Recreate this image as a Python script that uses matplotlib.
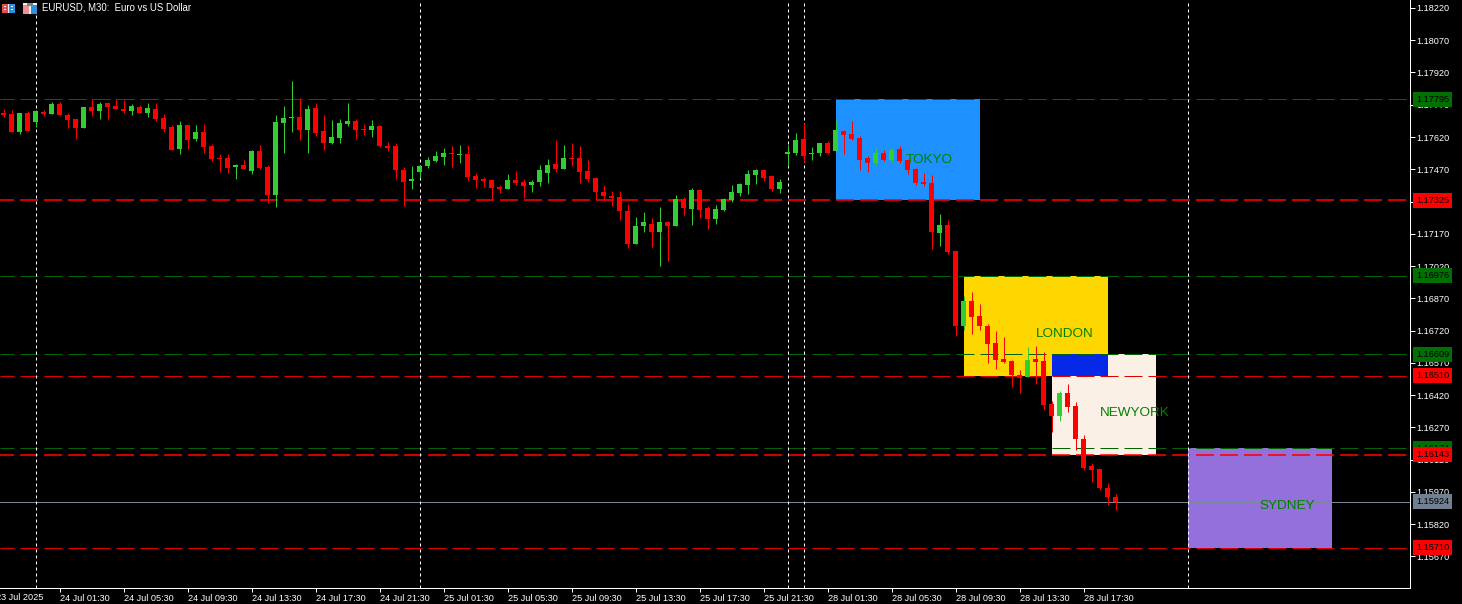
import matplotlib
matplotlib.use('Agg')
import matplotlib.pyplot as plt
from matplotlib.patches import Rectangle

plt.rcParams['font.family'] = ['Liberation Sans', 'DejaVu Sans']
plt.rcParams['lines.scale_dashes'] = False

opens = [1.17733, 1.17727, 1.17643, 1.17732, 1.17690, 1.17736, 1.17727, 1.17773, 1.17722, 1.17704,
         1.17662, 1.17759, 1.17741, 1.17778, 1.17764, 1.17750, 1.17741, 1.17759, 1.17732, 1.17750,
         1.17708, 1.17666, 1.17564, 1.17676, 1.17611, 1.17643, 1.17578, 1.17522, 1.17522, 1.17480,
         1.17490, 1.17462, 1.17555, 1.17480, 1.17350, 1.17685, 1.17708, 1.17713, 1.17652, 1.17755,
         1.17648, 1.17592, 1.17615, 1.17680, 1.17694, 1.17657, 1.17652, 1.17671, 1.17578, 1.17578,
         1.17467, 1.17415, 1.17457, 1.17485, 1.17508, 1.17527, 1.17546, 1.17538, 1.17541, 1.17439,
         1.17425, 1.17420, 1.17387, 1.17378, 1.17420, 1.17411, 1.17397, 1.17411, 1.17453, 1.17494,
         1.17471, 1.17522, 1.17522, 1.17462, 1.17429, 1.17364, 1.17346, 1.17341, 1.17276, 1.17122,
         1.17206, 1.17215, 1.17178, 1.17225, 1.17206, 1.17332, 1.17285, 1.17373, 1.17290, 1.17239,
         1.17281, 1.17327, 1.17359, 1.17397, 1.17443, 1.17467, 1.17439, 1.17378, 1.17541, 1.17545,
         1.17610, 1.17542, 1.17545, 1.17592, 1.17555, 1.17648, 1.17634, 1.17615, 1.17522, 1.17499,
         1.17545, 1.17513, 1.17564, 1.17513, 1.17471, 1.17410, 1.17406, 1.17173, 1.17211, 1.17090,
         1.16741, 1.16857, 1.16788, 1.16741, 1.16662, 1.16588, 1.16578, 1.16513, 1.16504, 1.16588,
         1.16578, 1.16378, 1.16323, 1.16430, 1.16369, 1.16216, 1.16090, 1.16076, 1.15988, 1.15946]
highs = [1.17749, 1.17746, 1.17732, 1.17739, 1.17746, 1.17746, 1.17783, 1.17783, 1.17732, 1.17704,
         1.17759, 1.17797, 1.17783, 1.17778, 1.17797, 1.17792, 1.17773, 1.17769, 1.17778, 1.17778,
         1.17727, 1.17676, 1.17694, 1.17676, 1.17676, 1.17680, 1.17587, 1.17541, 1.17541, 1.17494,
         1.17513, 1.17560, 1.17583, 1.17490, 1.17722, 1.17764, 1.17880, 1.17801, 1.17769, 1.17778,
         1.17722, 1.17699, 1.17704, 1.17778, 1.17704, 1.17680, 1.17699, 1.17676, 1.17597, 1.17592,
         1.17480, 1.17485, 1.17490, 1.17527, 1.17555, 1.17569, 1.17578, 1.17583, 1.17583, 1.17453,
         1.17434, 1.17420, 1.17397, 1.17448, 1.17462, 1.17425, 1.17420, 1.17490, 1.17518, 1.17606,
         1.17583, 1.17592, 1.17578, 1.17513, 1.17434, 1.17397, 1.17369, 1.17369, 1.17308, 1.17248,
         1.17271, 1.17243, 1.17294, 1.17229, 1.17350, 1.17341, 1.17383, 1.17373, 1.17299, 1.17304,
         1.17336, 1.17397, 1.17406, 1.17467, 1.17471, 1.17467, 1.17439, 1.17425, 1.17583, 1.17638,
         1.17685, 1.17573, 1.17592, 1.17601, 1.17699, 1.17652, 1.17694, 1.17624, 1.17531, 1.17569,
         1.17559, 1.17569, 1.17578, 1.17517, 1.17476, 1.17452, 1.17443, 1.17262, 1.17234, 1.17090,
         1.16881, 1.16899, 1.16843, 1.16750, 1.16718, 1.16690, 1.16583, 1.16536, 1.16643, 1.16648,
         1.16620, 1.16392, 1.16439, 1.16471, 1.16388, 1.16234, 1.16104, 1.16076, 1.16011, 1.15960]
lows = [1.17715, 1.17643, 1.17635, 1.17648, 1.17668, 1.17718, 1.17727, 1.17722, 1.17662, 1.17611,
        1.17662, 1.17718, 1.17704, 1.17704, 1.17750, 1.17732, 1.17722, 1.17732, 1.17713, 1.17694,
        1.17643, 1.17560, 1.17541, 1.17564, 1.17601, 1.17546, 1.17508, 1.17457, 1.17453, 1.17425,
        1.17471, 1.17448, 1.17471, 1.17313, 1.17294, 1.17546, 1.17643, 1.17606, 1.17546, 1.17625,
        1.17560, 1.17587, 1.17592, 1.17671, 1.17611, 1.17629, 1.17620, 1.17573, 1.17555, 1.17425,
        1.17299, 1.17378, 1.17428, 1.17476, 1.17504, 1.17490, 1.17480, 1.17499, 1.17415, 1.17383,
        1.17387, 1.17332, 1.17359, 1.17378, 1.17397, 1.17336, 1.17364, 1.17392, 1.17406, 1.17457,
        1.17471, 1.17485, 1.17406, 1.17411, 1.17325, 1.17325, 1.17299, 1.17234, 1.17104, 1.17122,
        1.17178, 1.17108, 1.17020, 1.17043, 1.17206, 1.17257, 1.17211, 1.17243, 1.17192, 1.17215,
        1.17276, 1.17318, 1.17346, 1.17355, 1.17401, 1.17415, 1.17369, 1.17359, 1.17485, 1.17536,
        1.17503, 1.17513, 1.17531, 1.17541, 1.17555, 1.17541, 1.17606, 1.17466, 1.17457, 1.17490,
        1.17508, 1.17503, 1.17499, 1.17448, 1.17396, 1.17392, 1.17099, 1.17113, 1.17076, 1.16696,
        1.16722, 1.16704, 1.16722, 1.16569, 1.16541, 1.16569, 1.16457, 1.16430, 1.16504, 1.16471,
        1.16350, 1.16248, 1.16299, 1.16341, 1.16165, 1.16071, 1.16016, 1.15979, 1.15909, 1.15885]
closes = [1.17722, 1.17643, 1.17732, 1.17648, 1.17741, 1.17727, 1.17773, 1.17722, 1.17699, 1.17662,
          1.17759, 1.17741, 1.17773, 1.17759, 1.17750, 1.17741, 1.17764, 1.17732, 1.17755, 1.17704,
          1.17657, 1.17560, 1.17676, 1.17606, 1.17643, 1.17573, 1.17518, 1.17518, 1.17476, 1.17490,
          1.17471, 1.17555, 1.17476, 1.17350, 1.17690, 1.17708, 1.17713, 1.17652, 1.17750, 1.17639,
          1.17592, 1.17620, 1.17685, 1.17694, 1.17652, 1.17654, 1.17671, 1.17578, 1.17569, 1.17467,
          1.17411, 1.17425, 1.17485, 1.17513, 1.17532, 1.17546, 1.17542, 1.17541, 1.17434, 1.17420,
          1.17415, 1.17383, 1.17378, 1.17420, 1.17406, 1.17392, 1.17411, 1.17467, 1.17490, 1.17471,
          1.17522, 1.17519, 1.17457, 1.17425, 1.17364, 1.17346, 1.17336, 1.17276, 1.17122, 1.17206,
          1.17225, 1.17178, 1.17225, 1.17206, 1.17332, 1.17290, 1.17373, 1.17281, 1.17239, 1.17285,
          1.17332, 1.17364, 1.17401, 1.17448, 1.17467, 1.17429, 1.17378, 1.17411, 1.17550, 1.17606,
          1.17531, 1.17545, 1.17592, 1.17545, 1.17652, 1.17629, 1.17610, 1.17513, 1.17499, 1.17545,
          1.17513, 1.17559, 1.17508, 1.17466, 1.17406, 1.17401, 1.17178, 1.17211, 1.17085, 1.16743,
          1.16857, 1.16783, 1.16741, 1.16657, 1.16583, 1.16574, 1.16513, 1.16499, 1.16583, 1.16574,
          1.16374, 1.16323, 1.16430, 1.16364, 1.16216, 1.16081, 1.16071, 1.15988, 1.15946, 1.15923]

# session boxes
session_names = ['TOKYO', 'LONDON', 'NEWYORK', 'SYDNEY']
session_start = [104, 120, 131, 148]
session_end = [122, 138, 144, 166]
session_high = [1.17795, 1.16976, 1.16609, 1.16174]
session_low = [1.17325, 1.16510, 1.16143, 1.15710]
session_colors = ['#1E90FF', '#FFD700', '#FAF0E6', '#9370DB']
label_bar = [112.8, 129, 137, 157]
label_price = [1.17515, 1.16705, 1.16335, 1.15905]

# horizontal levels, in the order the tags stack
level_prices = [1.17795, 1.17325, 1.16976, 1.16609, 1.16510, 1.16174, 1.16143, 1.15710]
level_colors = ['#006400', '#FF0000', '#006400', '#006400', '#E00000', '#006400', '#FF0000', '#E00000']
level_widths = [1, 1.6, 1, 1, 1, 1, 1.6, 1]
last_price = 1.15924

vline_bars = [4, 52, 98, 100, 148]

price_ticks = [1.18220, 1.18070, 1.17920, 1.17770, 1.17620, 1.17470, 1.17320, 1.17170, 1.17020,
               1.16870, 1.16720, 1.16570, 1.16420, 1.16270, 1.16120, 1.15970, 1.15820, 1.15670]
first_time_bar = -1
first_time_label = '23 Jul 2025'
time_ticks = [7, 15, 23, 31, 39, 47, 55, 63, 71, 79, 87, 95, 103, 111, 119, 127, 135]
time_labels = ['24 Jul 01:30', '24 Jul 05:30', '24 Jul 09:30', '24 Jul 13:30',
               '24 Jul 17:30', '24 Jul 21:30', '25 Jul 01:30', '25 Jul 05:30', '25 Jul 09:30',
               '25 Jul 13:30', '25 Jul 17:30', '25 Jul 21:30', '28 Jul 01:30', '28 Jul 05:30',
               '28 Jul 09:30', '28 Jul 13:30', '28 Jul 17:30']

px = 0.72  # one pixel in points at dpi 100

fig = plt.figure(figsize=(14.62, 6.04), dpi=100, facecolor='black')
ax = fig.add_axes([0, 16 / 604, 1410 / 1462, 588 / 604], facecolor='black')

# session rectangles
for i in range(4):
    ax.add_patch(Rectangle((session_start[i], session_low[i]), session_end[i] - session_start[i],
                           session_high[i] - session_low[i], facecolor=session_colors[i],
                           edgecolor='none', antialiased=False, zorder=1))
# London and New York overlap, the terminal xors the two colours
ax.add_patch(Rectangle((session_start[2], session_low[1]), session_end[1] - session_start[2],
                       session_high[2] - session_low[1], facecolor='#0527E6',
                       edgecolor='none', antialiased=False, zorder=1))

# dashed levels
for price, color, w in zip(level_prices, level_colors, level_widths):
    ax.axhline(price, color=color, lw=w * px, zorder=2, linestyle=(4 * px, (18 * px, 6 * px)))
ax.axhline(last_price, color='#778899', lw=px, zorder=2)

for bar in vline_bars:
    ax.axvline(bar, color='white', lw=px, zorder=2, linestyle=(0, (3 * px, 3 * px)))

# candles
for i in range(len(opens)):
    color = '#32CD32' if closes[i] >= opens[i] else '#FF0000'
    ax.vlines(i, lows[i], highs[i], color=color, lw=px, snap=True, zorder=3)
    ax.bar(i, abs(closes[i] - opens[i]), bottom=min(opens[i], closes[i]), width=0.625,
           color=color, linewidth=0, antialiased=False, zorder=3)

for i in range(4):
    ax.text(label_bar[i], label_price[i], session_names[i], color='#008000', fontsize=9.7,
            ha='left', va='center', zorder=4)

# axes
for side in ['top', 'left']:
    ax.spines[side].set_visible(False)
for side in ['right', 'bottom']:
    ax.spines[side].set_color('white')
    ax.spines[side].set_linewidth(px)
ax.yaxis.tick_right()
ax.set_yticks(price_ticks)
ax.set_yticklabels(['%.5f' % p for p in price_ticks])
ax.set_xticks(time_ticks)
ax.set_xticklabels(time_labels, ha='left')
ax.tick_params(axis='y', colors='white', labelsize=6.6, length=5 * px, width=px, pad=1)
ax.tick_params(axis='x', colors='white', labelsize=6.6, length=4 * px, width=px, pad=1.5)
ax.set_xlim(-0.4375, 175.8125)
ax.set_ylim(1.155234, 1.18257)

# first date label starts left of the window and gets cut off
ax.text(first_time_bar, -9 / 588, first_time_label, transform=ax.get_xaxis_transform(),
        color='white', fontsize=6.6, ha='left', va='center', clip_on=False)

# price tags on the scale
tag_trans = ax.get_yaxis_transform()
for price, color in zip(level_prices + [last_price], level_colors + ['#708090']):
    tag = '#007000' if color == '#006400' else color
    if color == '#E00000':
        tag = '#FF0000'
    ax.text(1 + 6 / 1410, price, '%.5f' % price, transform=tag_trans, color='black', fontsize=6.6,
            ha='left', va='center', clip_on=False, zorder=6,
            bbox=dict(facecolor=tag, edgecolor='none', pad=2.1))

# header
fig.text(42 / 1462, 1 - 8 / 604, 'EURUSD, M30:  Euro vs US Dollar', color='white', fontsize=6.9,
         ha='left', va='center')
icon_rects = [(2, 4, 13, 9, '#F0F0F0'), (2, 4, 6, 9, '#E05050'), (9, 4, 6, 9, '#3090E0'),
              (4, 6, 2, 1, '#F0F0F0'), (4, 9, 2, 1, '#F0F0F0'), (11, 6, 2, 1, '#F0F0F0'),
              (11, 9, 2, 1, '#F0F0F0'),
              (23, 3, 14, 11, '#F0F0F0'), (23, 5, 6, 9, '#F09090'), (31, 5, 6, 9, '#3090E0'),
              (27, 3, 6, 3, '#808080')]
for x, y, w, h, c in icon_rects:
    fig.add_artist(Rectangle((x / 1462, 1 - (y + h) / 604), w / 1462, h / 604, facecolor=c,
                             edgecolor='none', transform=fig.transFigure, zorder=7))

fig.savefig('out.png', dpi=100, facecolor='black')
